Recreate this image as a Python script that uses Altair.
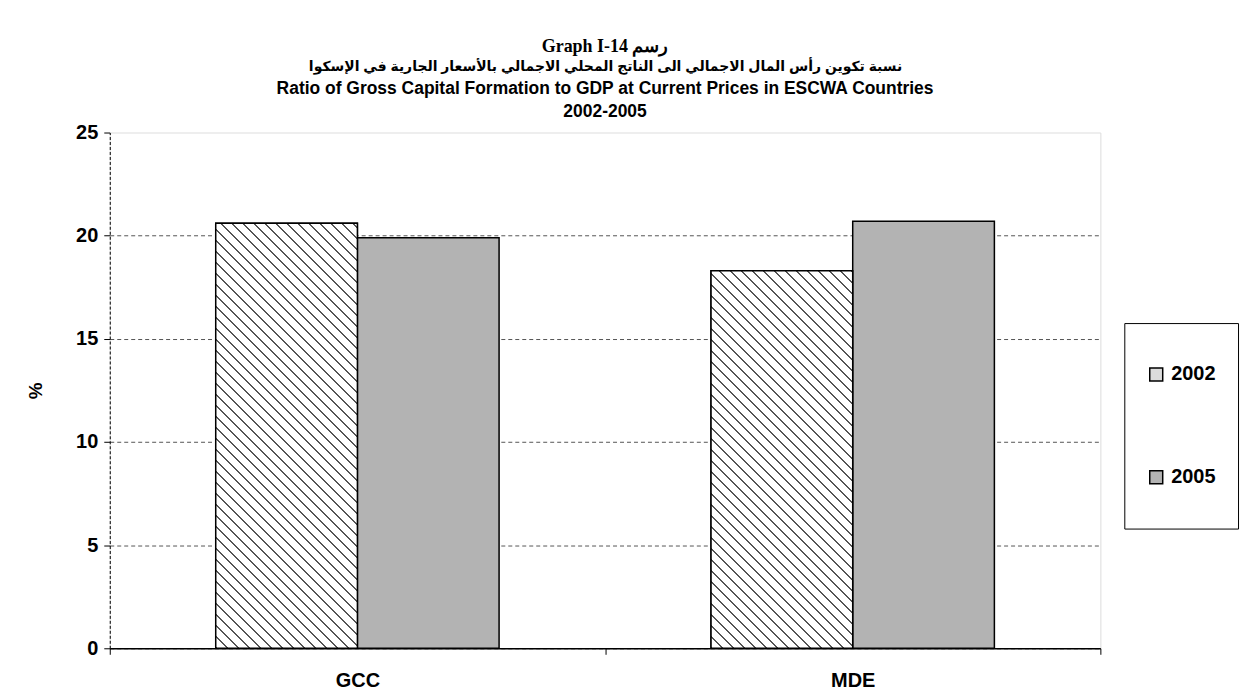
import math
import altair as alt
import pandas as pd

# ---- data ----
regions = ["GCC", "MDE"]
years = ["2002", "2005"]
values_2002 = [20.6, 18.3]
values_2005 = [19.9, 20.7]
y_ticks = [0, 5, 10, 15, 20, 25]

title_line1 = "Graph I-14 رسم"
title_ar = "نسبة تكوين رأس المال الاجمالي الى الناتج المحلي الاجمالي بالأسعار الجارية في الإسكوا"
title_en = "Ratio of Gross Capital Formation to GDP at Current Prices in ESCWA Countries"
title_years = "2002-2005"
y_title = "%"

rows = []
for i, r in enumerate(regions):
    rows.append({"region": r, "year": years[0], "value": values_2002[i]})
    rows.append({"region": r, "year": years[1], "value": values_2005[i]})
df = pd.DataFrame(rows)

# ---- layout ----
W, H = 993, 517
YMAX = 25
PAD_OUTER = 0.748
bar_w = (W / len(regions)) / (len(years) + 2 * PAD_OUTER)


def hatch(w, h, period=7.8, lw=1.3, ink="#555555", paper="#ffffff"):
    """Diagonal '\\' hatching as a linear gradient with hard stops."""
    k = (w + h) / (w * w + h * h)
    x2 = k * w
    y2 = 1 - k * h
    total = (w + h) / math.sqrt(2)
    stops = []
    i = 0
    while i * period / total < 1:
        a = i * period / total
        b = min((i * period + lw) / total, 1)
        c = min((i + 1) * period / total, 1)
        stops += [
            {"offset": a, "color": ink},
            {"offset": b, "color": ink},
            {"offset": b, "color": paper},
            {"offset": c, "color": paper},
        ]
        i += 1
    return {"gradient": "linear", "x1": 0, "y1": 1, "x2": x2, "y2": y2, "stops": stops}


FONT = "Liberation Sans, DejaVu Sans, Arial"
x_scale = alt.Scale(domain=regions, paddingInner=0, paddingOuter=0)

base = alt.Chart(df).encode(
    x=alt.X(
        "region:N",
        sort=regions,
        scale=x_scale,
        axis=alt.Axis(
            orient="bottom",
            title=None,
            labelAngle=0,
            labelFont=FONT,
            labelFontSize=20,
            labelFontWeight="bold",
            labelColor="black",
            labelPadding=16,
            tickBand="extent",
            tickSize=6,
            tickColor="black",
            domainColor="black",
            domainWidth=1.5,
            grid=False,
        ),
    ),
    xOffset=alt.XOffset(
        "year:N",
        sort=years,
        scale=alt.Scale(domain=years, paddingInner=0, paddingOuter=PAD_OUTER),
    ),
    y=alt.Y(
        "value:Q",
        scale=alt.Scale(domain=[0, YMAX], nice=False),
        axis=alt.Axis(
            title=y_title,
            values=y_ticks,
            titleFont=FONT,
            titleFontSize=19,
            titleFontWeight="bold",
            titleColor="black",
            titleX=-74,
            titleY=H / 2,
            titleAlign="center",
            titleBaseline="middle",
            titleAngle=270,
            labelFont=FONT,
            labelFontSize=20,
            labelFontWeight="bold",
            labelColor="black",
            labelPadding=6,
            tickSize=6,
            tickColor="black",
            domainColor="black",
            domainDash=[3, 2],
            grid=True,
            gridColor="#555555",
            gridDash=[4, 3],
            gridWidth=1,
            gridOpacity={"condition": {"test": "datum.value >= 25", "value": 0}, "value": 1},
        ),
    ),
)

bars = base.mark_bar(stroke="black", strokeWidth=1.5).encode(
    color=alt.Color(
        "year:N",
        sort=years,
        scale=alt.Scale(domain=years, range=["#dcdcdc", "#b3b3b3"]),
        legend=alt.Legend(
            title=None,
            orient="none",
            legendX=1127 - 110,
            legendY=323 - 132,
            padding=22,
            clipHeight=59,
            rowPadding=44,
            symbolType="square",
            symbolSize=169,
            symbolStrokeColor="black",
            symbolStrokeWidth=1.5,
            labelFont=FONT,
            labelFontSize=20,
            labelFontWeight="bold",
            labelColor="black",
            labelOffset=5,
            strokeColor="black",
            fillColor="white",
        ),
    )
)

hatch_layers = []
for i, r in enumerate(regions):
    h_px = values_2002[i] / YMAX * H
    hatch_layers.append(
        base.transform_filter(
            f"datum.region === '{r}' && datum.year === '{years[0]}'"
        )
        .mark_bar(fill=hatch(bar_w, h_px), stroke="black", strokeWidth=1.5)
        .encode(x=alt.X("region:N", sort=regions, scale=x_scale, axis=None))
    )

# Arabic title line, carried by an empty top axis so it can have its own size
arabic_line = base.mark_bar(opacity=0).encode(
    x=alt.X(
        "region:N",
        sort=regions,
        scale=x_scale,
        axis=alt.Axis(
            orient="top",
            labels=False,
            ticks=False,
            domain=False,
            grid=False,
            title=title_ar,
            titleFont=FONT,
            titleFontSize=14,
            titleFontWeight="bold",
            titleColor="black",
            titleX=W / 2,
            titleY=-66,
            titleAlign="center",
            titleBaseline="middle",
            titleAngle=0,
        ),
    )
)

chart = (
    alt.layer(bars, *hatch_layers, arabic_line)
    .properties(
        width=W,
        height=H,
        autosize=alt.AutoSizeParams(type="none"),
        padding={"left": 102, "top": 124, "right": 150, "bottom": 46},
        title=alt.TitleParams(
            text=title_line1,
            subtitle=[title_en, title_years],
            font="Liberation Serif, DejaVu Serif",
            fontSize=18,
            fontWeight="bold",
            color="black",
            subtitleFont=FONT,
            subtitleFontSize=17.5,
            subtitleFontWeight="bold",
            subtitleColor="black",
            subtitleLineHeight=23,
            subtitlePadding=24,
            anchor="middle",
            frame="group",
            offset=-61,
        ),
    )
    .configure_view(stroke=None)
    .configure(background="white")
)

chart.save("out.html", embed_options={"renderer": "svg", "actions": False})
